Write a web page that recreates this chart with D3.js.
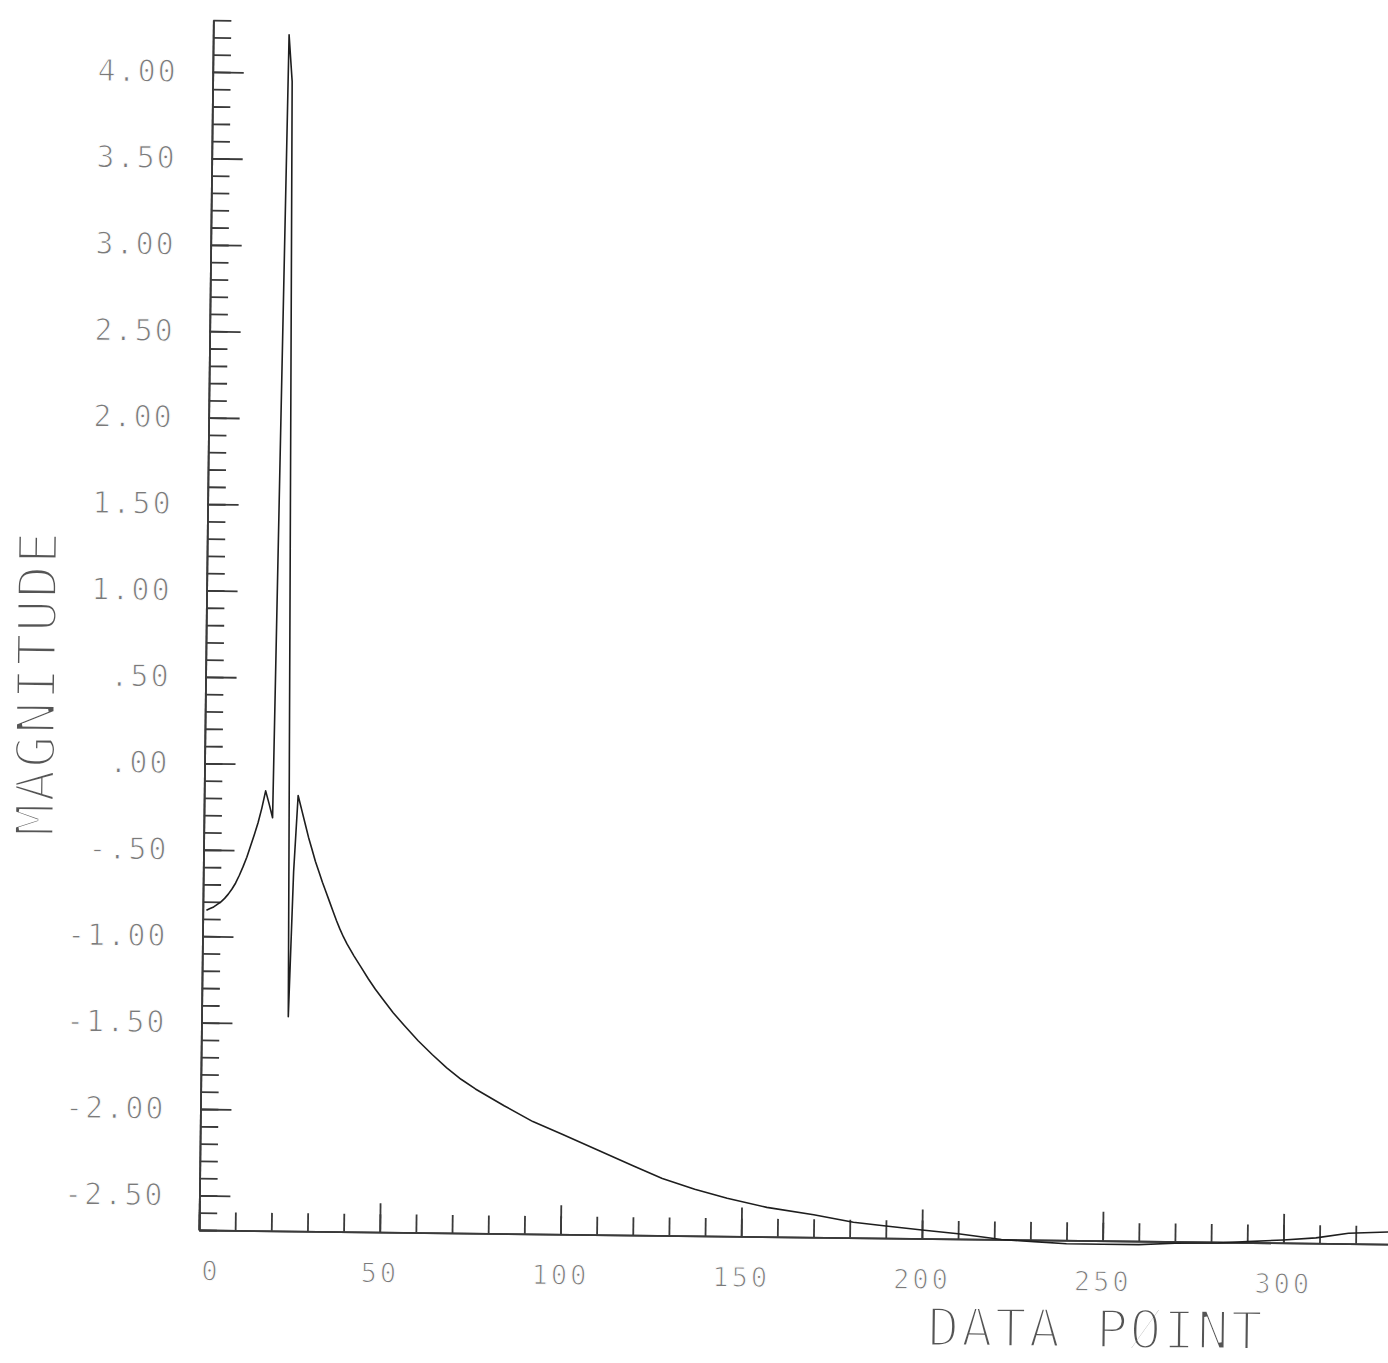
<!DOCTYPE html>
<html>
<head>
<meta charset="utf-8">
<script src="https://cdn.jsdelivr.net/npm/d3@7"></script>
<style>
  body { margin: 0; background: #fff; }
  svg { display: block; }
</style>
</head>
<body>
<div id="chart"></div>
<script>

// values (data point index, magnitude)
var dataPoint = [1, 2, 3, 4, 5, 6, 7, 8, 9, 10, 11, 12, 13, 14, 15, 16, 17, 18, 19,
  20, 21, 22, 23, 24, 25, 26, 27, 28, 29, 30, 31, 32, 33, 34, 35,
  36, 37, 38, 39, 40, 42, 44, 46, 48, 50, 53, 56, 60, 64, 68, 72, 76, 84, 92, 100, 110, 120, 128, 137, 146, 157,
  170, 181, 190, 200, 210, 222, 231, 240, 250, 260, 270, 282, 290, 300, 309, 318, 329];
var magnitude = [-0.85, -0.84, -0.83, -0.815, -0.80, -0.78, -0.755, -0.725, -0.69, -0.645,
  -0.595, -0.54, -0.475, -0.41, -0.34, -0.255, -0.155, -0.23, -0.31,
  2.0, 4.22, 3.95, 1.25, -1.46, -0.62, -0.18, -0.26, -0.34, -0.42, -0.49, -0.56, -0.62, -0.68, -0.735, -0.79,
  -0.845, -0.9, -0.95, -0.995, -1.035, -1.105, -1.17, -1.235, -1.295, -1.35, -1.43, -1.50, -1.59, -1.67, -1.745, -1.81, -1.865,
  -1.96, -2.05, -2.12, -2.21, -2.30, -2.37, -2.43, -2.48, -2.53,
  -2.57, -2.61, -2.63, -2.65, -2.67, -2.70, -2.71, -2.72, -2.72, -2.72, -2.71, -2.705, -2.695, -2.683, -2.669, -2.64, -2.63];

var yTicks = [4.0, 3.5, 3.0, 2.5, 2.0, 1.5, 1.0, 0.5, 0.0, -0.5, -1.0, -1.5, -2.0, -2.5];
var yTickLabels = ["4.00", "3.50", "3.00", "2.50", "2.00", "1.50", "1.00", ".50", ".00",
  "-.50", "-1.00", "-1.50", "-2.00", "-2.50"];
var xTicks = [0, 50, 100, 150, 200, 250, 300];
var xTickLabels = ["0", "50", "100", "150", "200", "250", "300"];

function drawChart(tag) {
  var width = 1388, height = 1363;
  var origin = {x: 199, y: 1230};

  var svg = d3.select('#' + tag)
    .append("svg")
      .attr("width", width)
      .attr("height", height);

  // the plotted sheet sits a little skewed on the scan
  var g = svg.append("g")
    .attr("transform", "rotate(0.68," + origin.x + "," + origin.y + ")");

  var xscale = d3.scaleLinear()
    .domain([0, 340])
    .range([origin.x, origin.x + 1229]);

  var yscale = d3.scaleLinear()
    .domain([-2.7, 4.3])
    .range([origin.y, 20]);

  // minor ticks every .1 on y, every 10 on x
  var yMinor = d3.range(-27, 44).map(function(d) { return d / 10; });
  var xMinor = d3.range(0, 340, 10);

  function styleAxis(sel) {
    sel.selectAll(".domain, .tick line")
      .attr("stroke", "#3a3a3a")
      .attr("stroke-width", 1.8);
  }

  g.append("g")
    .attr("transform", "translate(" + origin.x + ",0)")
    .call(d3.axisLeft(yscale).tickValues(yMinor).tickSize(-18).tickSizeOuter(0).tickFormat(""))
    .call(styleAxis);

  g.append("g")
    .attr("transform", "translate(" + origin.x + ",0)")
    .call(d3.axisLeft(yscale).tickValues(yTicks).tickSize(-31).tickSizeOuter(0).tickPadding(35)
      .tickFormat(function(d, i) { return yTickLabels[i]; }))
    .call(styleAxis)
    .call(function(ax) {
      ax.selectAll("text")
        .attr("font-family", "DejaVu Sans Mono")
        .attr("font-size", 30)
        .attr("letter-spacing", 2)
        .attr("fill", "#7a7a7a")
        .attr("stroke", "#fff")
        .attr("stroke-width", 1);
    });

  g.append("g")
    .attr("transform", "translate(0," + origin.y + ")")
    .call(d3.axisBottom(xscale).tickValues(xMinor).tickSize(-18).tickSizeOuter(0).tickFormat(""))
    .call(styleAxis);

  g.append("g")
    .attr("transform", "translate(0," + origin.y + ")")
    .call(d3.axisBottom(xscale).tickValues(xTicks).tickSize(-29).tickSizeOuter(0).tickPadding(31)
      .tickFormat(function(d, i) { return xTickLabels[i]; }))
    .call(styleAxis)
    .call(function(ax) {
      ax.selectAll("text")
        .attr("font-family", "DejaVu Sans Mono")
        .attr("font-size", 27)
        .attr("letter-spacing", 3)
        .attr("dx", function(d) { return d === 0 ? 12 : 0; })
        .attr("fill", "#7a7a7a")
        .attr("stroke", "#fff")
        .attr("stroke-width", 1);
    });

  // axis titles
  g.append("text")
    .attr("transform", "translate(49,685) rotate(-90)")
    .attr("text-anchor", "middle")
    .attr("font-family", "DejaVu Sans Mono")
    .attr("font-size", 54)
    .attr("letter-spacing", 1.5)
    .attr("fill", "#555")
    .attr("stroke", "#fff")
    .attr("stroke-width", 3)
    .text("MAGNITUDE");

  g.append("text")
    .attr("x", 1097)
    .attr("y", 1337)
    .attr("text-anchor", "middle")
    .attr("font-family", "DejaVu Sans Mono")
    .attr("font-size", 53)
    .attr("letter-spacing", 1.8)
    .attr("fill", "#555")
    .attr("stroke", "#fff")
    .attr("stroke-width", 3)
    .text("DATA PØINT");

  // the curve
  var points = dataPoint.map(function(d, i) { return {x: d, y: magnitude[i]}; });
  g.append("path")
    .datum(points)
    .attr("fill", "none")
    .attr("stroke", "#1e1e1e")
    .attr("stroke-width", 1.6)
    .attr("stroke-linejoin", "round")
    .attr("d", d3.line()
      .x(function(d) { return xscale(d.x); })
      .y(function(d) { return yscale(d.y); }));
}

drawChart("chart");
</script>
</body>
</html>
